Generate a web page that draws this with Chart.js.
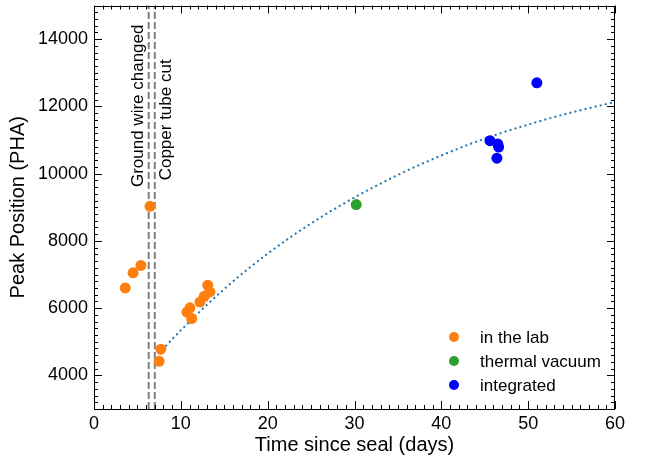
<!DOCTYPE html>
<html>
<head>
<meta charset="utf-8">
<script src="https://cdn.jsdelivr.net/npm/chart.js@4.4.0/dist/chart.umd.min.js"></script>
<style>
  html, body { margin: 0; padding: 0; background: #fff; }
</style>
</head>
<body>
<canvas id="canvas" width="645" height="459"></canvas>
<script>
var labDays = [3.6, 4.5, 5.4, 6.45, 7.5, 7.7, 10.7, 11.05, 11.25, 12.2, 12.7, 13.1, 13.35];
var labPeak = [6600, 7050, 7270, 9030, 4420, 4780, 5880, 6010, 5690, 6180, 6350, 6680, 6480];
var vacDays = [30.2];
var vacPeak = [9080];
var intDays = [45.6, 46.5, 46.6, 46.4, 51.0];
var intPeak = [10980, 10880, 10790, 10460, 12700];

// Curva de ajuste (puntos leídos sobre la línea punteada)
var fitDays = [7.4, 10, 15, 20, 25, 30, 35, 40, 45, 50, 55, 60];
var fitPeak = [4640, 5340, 6570, 7620, 8520, 9290, 9960, 10540, 11040, 11460, 11820, 12130];

// Eventos marcados con líneas verticales
var eventDays = [6.3, 7.0];
var eventLabels = ['Ground wire changed', 'Copper tube cut'];

var seriesLabels = ['in the lab', 'thermal vacuum', 'integrated'];
var xTicks = [0, 10, 20, 30, 40, 50, 60];
var yTicks = [4000, 6000, 8000, 10000, 12000, 14000];

var FONT = "'Liberation Sans', Arial, Helvetica, sans-serif";

function pts(xs, ys) {
    return xs.map(function (x, i) { return { x: x, y: ys[i] }; });
}

function vline(day) {
    return [{ x: day, y: 3000 }, { x: day, y: 15000 }];
}

/**
 * Dibuja marco, ticks hacia dentro, textos rotados y leyenda
 */
var decoPlugin = {
    id: 'deco',
    afterDraw: function (chart) {
        var ctx = chart.ctx;
        var a = chart.chartArea;
        var xs = chart.scales.x;
        var ys = chart.scales.y;
        ctx.save();
        ctx.strokeStyle = '#000';
        ctx.lineWidth = 1;
        ctx.strokeRect(Math.round(a.left) + 0.5, Math.round(a.top) + 0.5,
            Math.round(a.right - a.left) - 1, Math.round(a.bottom - a.top) - 1);

        ctx.beginPath();
        for (var d = 0; d <= 60; d++) {
            var px = Math.round(xs.getPixelForValue(d)) + 0.5;
            var len = (d % 10 === 0) ? 8 : 4;
            ctx.moveTo(px, a.bottom); ctx.lineTo(px, a.bottom - len);
            ctx.moveTo(px, a.top); ctx.lineTo(px, a.top + len);
        }
        for (var v = 3000; v <= 15000; v += 200) {
            var py = Math.round(ys.getPixelForValue(v)) + 0.5;
            var l2 = (v % 2000 === 0) ? 8 : 4;
            ctx.moveTo(a.left, py); ctx.lineTo(a.left + l2, py);
            ctx.moveTo(a.right, py); ctx.lineTo(a.right - l2, py);
        }
        ctx.stroke();

        // Textos de los eventos
        ctx.fillStyle = '#000';
        ctx.font = '17px ' + FONT;
        ctx.textBaseline = 'alphabetic';
        ctx.textAlign = 'left';
        var offs = [-6, 16];
        var startY = [9600, 9800];
        eventDays.forEach(function (day, i) {
            ctx.save();
            ctx.translate(xs.getPixelForValue(day) + offs[i], ys.getPixelForValue(startY[i]));
            ctx.rotate(-Math.PI / 2);
            ctx.fillText(eventLabels[i], 0, 0);
            ctx.restore();
        });

        // Leyenda en la esquina inferior derecha
        ctx.textBaseline = 'middle';
        for (var k = 0; k < 3; k++) {
            var ds = chart.data.datasets[k];
            var ly = a.bottom - 72 + k * 24;
            ctx.beginPath();
            ctx.fillStyle = ds.backgroundColor;
            ctx.arc(a.right - 161, ly, 5, 0, Math.PI * 2);
            ctx.fill();
            ctx.fillStyle = '#000';
            ctx.fillText(ds.label, a.right - 135, ly + 1);
        }
        ctx.restore();
    }
};

function plain(value) {
    return String(value);
}

var chart = new Chart(document.getElementById('canvas'), {
    type: 'scatter',
    data: {
        datasets: [{
            label: seriesLabels[0],
            data: pts(labDays, labPeak),
            backgroundColor: '#ff7f0e',
            borderColor: '#ff7f0e',
            pointRadius: 5.5,
            borderWidth: 0
        }, {
            label: seriesLabels[1],
            data: pts(vacDays, vacPeak),
            backgroundColor: '#2ca02c',
            borderColor: '#2ca02c',
            pointRadius: 5.5,
            borderWidth: 0
        }, {
            label: seriesLabels[2],
            data: pts(intDays, intPeak),
            backgroundColor: '#0000ff',
            borderColor: '#0000ff',
            pointRadius: 5.5,
            borderWidth: 0
        }, {
            label: 'fit',
            data: pts(fitDays, fitPeak),
            showLine: true,
            borderColor: '#1f77b4',
            borderWidth: 2,
            borderDash: [2, 3.2],
            cubicInterpolationMode: 'monotone',
            pointRadius: 0
        }, {
            label: eventLabels[0],
            data: vline(eventDays[0]),
            showLine: true,
            borderColor: '#7f7f7f',
            borderWidth: 2,
            borderDash: [7, 3],
            pointRadius: 0
        }, {
            label: eventLabels[1],
            data: vline(eventDays[1]),
            showLine: true,
            borderColor: '#7f7f7f',
            borderWidth: 2,
            borderDash: [7, 3],
            pointRadius: 0
        }]
    },
    options: {
        responsive: false,
        animation: false,
        devicePixelRatio: 1,
        layout: { padding: { top: 5, right: 30, left: 0, bottom: 0 } },
        plugins: {
            legend: { display: false },
            tooltip: { enabled: false }
        },
        scales: {
            x: {
                type: 'linear',
                min: 0,
                max: 60,
                grid: { display: false, drawTicks: false, tickLength: 0 },
                border: { display: false },
                afterBuildTicks: function (s) { s.ticks = xTicks.map(function (v) { return { value: v }; }); },
                afterFit: function (s) {
                    s.height = 50;
                    s.paddingLeft = 0;
                    s.paddingRight = 0;
                },
                ticks: { color: '#000', padding: 4, maxRotation: 0, font: { family: FONT, size: 18 }, callback: plain },
                title: {
                    display: true,
                    text: 'Time since seal (days)',
                    color: '#000',
                    padding: { top: 0, bottom: 2 },
                    font: { family: FONT, size: 20 }
                }
            },
            y: {
                type: 'linear',
                min: 3000,
                max: 15000,
                grid: { display: false, drawTicks: false, tickLength: 0 },
                border: { display: false },
                afterBuildTicks: function (s) { s.ticks = yTicks.map(function (v) { return { value: v }; }); },
                afterFit: function (s) {
                    s.width = 94;
                    s.paddingTop = 0;
                    s.paddingBottom = 0;
                },
                ticks: { color: '#000', padding: 6, font: { family: FONT, size: 18 }, callback: plain },
                title: {
                    display: true,
                    text: 'Peak Position (PHA)',
                    color: '#000',
                    padding: { top: 6, bottom: 0 },
                    font: { family: FONT, size: 20 }
                }
            }
        }
    },
    plugins: [decoPlugin]
});
</script>
</body>
</html>
